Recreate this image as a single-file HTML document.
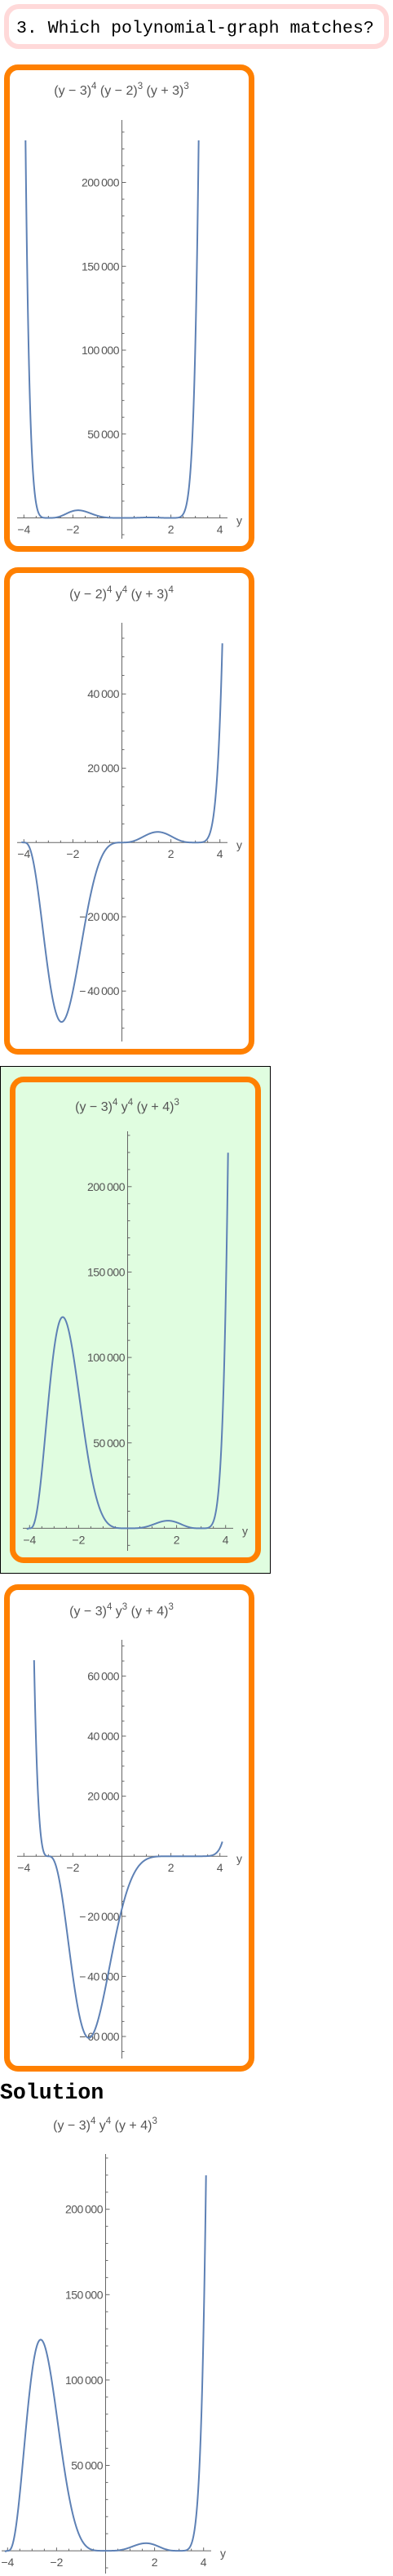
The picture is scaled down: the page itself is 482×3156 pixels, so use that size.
<!DOCTYPE html>
<html><head><meta charset="utf-8">
<style>
html,body{margin:0;padding:0;background:#fff;}
body{width:482px;height:3156px;position:relative;overflow:hidden;font-family:"Liberation Sans",sans-serif;}
.abs{position:absolute;box-sizing:border-box;}
.card{border:7px solid #ff8000;border-radius:17px;background:#fff;}
#qbox{left:5px;top:5px;width:472px;height:55px;border:6px solid #ffd9d9;border-radius:18px;background:#fff;}
#qtext{left:20px;top:22px;font-family:"Liberation Mono",monospace;font-size:21.5px;line-height:26px;color:#000;white-space:pre;}
#sol{left:0;top:2549px;font-family:"Liberation Mono",monospace;font-weight:bold;font-size:26.5px;line-height:30px;color:#000;}
svg{position:absolute;left:0;top:0;}
</style></head>
<body>
<div class="abs" id="qbox"></div>
<div class="abs" id="qtext">3. Which polynomial-graph matches?</div>
<div class="abs card" style="left:5px;top:79px;width:307px;height:597px;"></div>
<div class="abs card" style="left:5px;top:695px;width:307px;height:597px;"></div>
<div class="abs" style="left:0;top:1306px;width:332px;height:622px;border:1px solid #000;background:#e0fde0;"></div>
<div class="abs card" style="left:12px;top:1319px;width:308px;height:596px;background:#e0fde0;"></div>
<div class="abs card" style="left:5px;top:1941px;width:307px;height:597px;"></div>
<div class="abs" id="sol">Solution</div>
<svg id="plots" width="482" height="3156"></svg>
<script>
// Polynomial factors (roots and powers) for each plotted curve
const roots1 = [2, 0, -3];  const pows1 = [4, 4, 4];
const roots2 = [3, 0, -4];  const pows2 = [4, 3, 3];
const roots3 = [3, 0, -4];  const pows3 = [4, 4, 3];
const roots4 = [3, 2, -3];  const pows4 = [4, 3, 3];
const roots5 = [3, 0, -4];  const pows5 = [4, 4, 3];
// Titles
const titles = [
  [["(y − 3)", "4"], [" (y − 2)", "3"], [" (y + 3)", "3"]],
  [["(y − 2)", "4"], [" y", "4"], [" (y + 3)", "4"]],
  [["(y − 3)", "4"], [" y", "4"], [" (y + 4)", "3"]],
  [["(y − 3)", "4"], [" y", "3"], [" (y + 4)", "3"]],
  [["(y − 3)", "4"], [" y", "4"], [" (y + 4)", "3"]]
];
// Tick values
const xTicks = [-4, -2, 2, 4];
const yTicks1 = [50000, 100000, 150000, 200000];
const yTicks2 = [-40000, -20000, 20000, 40000];
const yTicks3 = [50000, 100000, 150000, 200000];
const yTicks4 = [-60000, -40000, -20000, 20000, 40000, 60000];
const yTicks5 = [50000, 100000, 150000, 200000];
const yMinor1 = 10000, yMinor2 = 5000, yMinor3 = 10000, yMinor4 = 5000, yMinor5 = 10000;

const charts = [
  {roots:roots1,pows:pows1,ticks:yTicks1,minor:yMinor1,title:titles[0],x0:149.5,y0:634.5,ky:2.055e-3,top:147,bot:660,clipTop:172,xl:21,xr:279,ty:116,tx:149},
  {roots:roots2,pows:pows2,ticks:yTicks2,minor:yMinor2,title:titles[1],x0:149.5,y0:1032.2,ky:4.55e-3,top:763,bot:1276,clipTop:763,xl:21,xr:279,ty:733,tx:149},
  {roots:roots3,pows:pows3,ticks:yTicks3,minor:yMinor3,title:titles[2],x0:156.5,y0:1872.4,ky:2.093e-3,top:1386,bot:1900,clipTop:1386,xl:28,xr:286,ty:1361,tx:156},
  {roots:roots4,pows:pows4,ticks:yTicks4,minor:yMinor4,title:titles[3],x0:149.5,y0:2274.2,ky:3.68e-3,top:2009,bot:2522,clipTop:2034,xl:21,xr:279,ty:1979,tx:149},
  {roots:roots5,pows:pows5,ticks:yTicks5,minor:yMinor5,title:titles[4],x0:129.5,y0:3125.1,ky:2.092e-3,top:2639,bot:3153,clipTop:2664,xl:2,xr:259,ty:2609,tx:129}
];
const NS = "http://www.w3.org/2000/svg";
const svg = document.getElementById("plots");
const KX = 30.05;
function mk(tag, attrs, parent){const e=document.createElementNS(NS,tag);for(const k in attrs)e.setAttribute(k,attrs[k]);(parent||svg).appendChild(e);return e;}
function fmt(v){const s=Math.abs(v).toString();const t=s.length>3?s.slice(0,s.length-3)+"\u2009"+s.slice(-3):s;return (v<0?"\u2212\u2009":"")+t;}
charts.forEach((c,i)=>{
  const g=mk("g",{});
  
  
  const sx=x=>c.x0+x*KX, sy=v=>c.y0-v*c.ky;
  // title
  const t=mk("text",{x:c.tx,y:c.ty,"text-anchor":"middle","font-size":"16","fill":"#555"},g);
  
  
  c.title.forEach((p,j)=>{
    const a=mk("tspan",j>0?{dy:"7","font-size":"16"}:{"font-size":"16"},t);a.textContent=p[0];
    const b=mk("tspan",{dy:"-7","font-size":"11.5"},t);b.textContent=p[1];
  });
  // axes
  const ax=mk("line",{x1:c.xl,x2:c.xr,y1:c.y0,y2:c.y0,stroke:"#666","stroke-width":"1"},g);
  
  
  const ay=mk("line",{x1:c.x0,x2:c.x0,y1:c.top,y2:c.bot,stroke:"#666","stroke-width":"1"},g);
  
  
  // x ticks
  for(let k=-8;k<=8;k++){const x=k/2;if(x===0)continue;const px=sx(x);if(px<c.xl||px>c.xr)continue;const len=(k%4===0)?4:2.5;mk("line",{x1:px,x2:px,y1:c.y0,y2:c.y0-len,stroke:"#666","stroke-width":"1"},g);}
  xTicks.forEach(x=>{const l=mk("text",{x:sx(x),y:c.y0+19,"text-anchor":"middle","font-size":"14","fill":"#555"},g);l.textContent=x<0?"\u2212"+(-x):""+x;
    
    });
  const yl=mk("text",{x:c.xr+11,y:c.y0+8,"font-size":"14","fill":"#555"},g);yl.textContent="y";
  
  
  // y ticks
  const vmax=(c.y0-c.top)/c.ky, vmin=-(c.bot-c.y0)/c.ky;
  for(let v=Math.ceil(vmin/c.minor)*c.minor;v<=vmax;v+=c.minor){if(v===0)continue;const major=c.ticks.includes(v);mk("line",{x1:c.x0,x2:c.x0+(major?5:3),y1:sy(v),y2:sy(v),stroke:"#666","stroke-width":"1"},g);}
  c.ticks.forEach(v=>{const l=mk("text",{x:c.x0-3.5,y:sy(v)+5,"text-anchor":"end","font-size":"14","fill":"#555","letter-spacing":"-0.5"},g);l.textContent=fmt(v);
    
    });
  // curve
  const cp=mk("clipPath",{id:"cp"+i},g);mk("rect",{x:0,y:c.clipTop,width:482,height:c.bot-c.clipTop+20},cp);
  let d="";for(let x=-4.1;x<=4.1001;x+=0.01){let v=1;c.roots.forEach((r,j)=>{v*=Math.pow(x-r,c.pows[j]);});let py=sy(v);py=Math.max(-1000,Math.min(5000,py));d+=(d?"L":"M")+sx(x).toFixed(2)+","+py.toFixed(2);}
  const p=mk("path",{d:d,fill:"none",stroke:"#5e81b5","stroke-width":"2","clip-path":"url(#cp"+i+")","stroke-linejoin":"round"},g);
  
  
});
</script>
</body></html>
